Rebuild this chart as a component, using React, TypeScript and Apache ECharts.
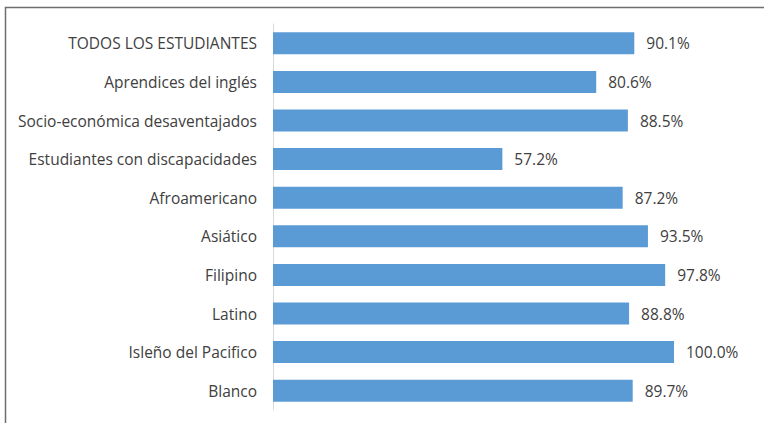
import React, { useEffect, useRef } from "react";
import * as echarts from "echarts";

const categories = [
  "TODOS LOS ESTUDIANTES",
  "Aprendices del inglés",
  "Socio-económica desaventajados",
  "Estudiantes con discapacidades",
  "Afroamericano",
  "Asiático",
  "Filipino",
  "Latino",
  "Isleño del Pacifico",
  "Blanco",
];
const values = [90.1, 80.6, 88.5, 57.2, 87.2, 93.5, 97.8, 88.8, 100.0, 89.7];

export default function App() {
  const ref = useRef<HTMLDivElement>(null);
  useEffect(() => {
    if (!ref.current) return;
    const chart = echarts.init(ref.current, null, { renderer: "svg" });
    chart.setOption({
      animation: false,
      backgroundColor: "#ffffff",
      textStyle: { fontFamily: "Open Sans" },
      grid: { left: 273, right: 90, top: 24, bottom: 13, containLabel: false },
      xAxis: {
        type: "value",
        min: 0,
        max: 100,
        show: false,
      },
      yAxis: {
        type: "category",
        data: categories,
        inverse: true,
        axisLine: { show: true, lineStyle: { color: "#d9d9d9", width: 1 } },
        axisTick: { show: false },
        axisLabel: {
          color: "#404040",
          fontSize: 15.5,
          margin: 16,
          fontFamily: "Open Sans",
        },
      },
      series: [
        {
          type: "bar",
          data: values,
          barWidth: 22,
          itemStyle: { color: "#5b9bd5" },
          label: {
            show: true,
            position: "right",
            distance: 12,
            color: "#404040",
            fontSize: 15.5,
            fontFamily: "Open Sans",
            formatter: (p: any) => p.value.toFixed(1) + "%",
          },
        },
      ],
      graphic: [
        {
          type: "rect",
          shape: { x: 5.5, y: 7.5, width: 900, height: 600 },
          style: { fill: "none", stroke: "#6e6e6e", lineWidth: 1.5 },
          silent: true,
        },
      ],
    });
    return () => chart.dispose();
  }, []);
  return (
    <div
      ref={ref}
      style={{ position: "fixed", left: 0, top: 0, width: 764, height: 423 }}
    />
  );
}
